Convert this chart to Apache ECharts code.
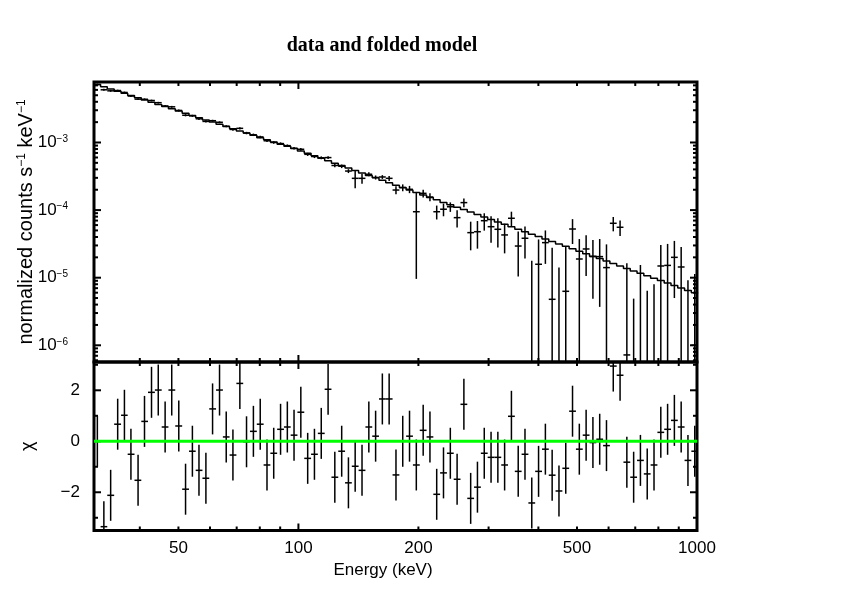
<!DOCTYPE html>
<html><head><meta charset="utf-8">
<script src="https://cdn.jsdelivr.net/npm/echarts@6/dist/echarts.min.js"></script>
<style>html,body{margin:0;padding:0;background:#fff}#c{width:842px;height:595px}</style>
</head><body><div id="c"></div><script>
// ---- data ----
const energy = [31.3, 32.5, 33.8, 35.2, 36.6, 38.0, 39.6, 41.1, 42.8, 44.5,
  46.3, 48.1, 50.1, 52.1, 54.2, 56.3, 58.6, 60.9, 63.4, 65.9,
  68.5, 71.3, 74.1, 77.1, 80.2, 83.4, 86.7, 90.2, 93.8, 97.5,
  101.4, 105.5, 109.7, 114.1, 118.7, 123.4, 128.4, 133.5, 138.8, 144.4,
  150.2, 156.2, 162.4, 168.9, 175.7, 182.7, 190.0, 197.6, 205.6, 213.8,
  222.3, 231.2, 240.5, 250.1, 260.1, 270.5, 281.3, 292.6, 304.3, 316.5,
  329.1, 342.3, 356.0, 370.2, 385.0, 400.4, 416.5, 433.1, 450.5, 468.5,
  487.2, 506.7, 527.0, 548.1, 570.0, 592.8, 616.5, 641.2, 666.8, 693.5,
  721.2, 750.1, 780.1, 811.3, 843.8, 877.5, 912.6, 949.1, 987.1];
const model = [7.21e-3, 6.69e-3, 6.21e-3, 5.75e-3, 5.34e-3, 4.95e-3, 4.59e-3, 4.26e-3, 3.95e-3, 3.66e-3,
  3.40e-3, 3.15e-3, 2.92e-3, 2.71e-3, 2.51e-3, 2.33e-3, 2.16e-3, 2.01e-3, 1.86e-3, 1.73e-3,
  1.60e-3, 1.48e-3, 1.38e-3, 1.28e-3, 1.18e-3, 1.10e-3, 1.02e-3, 9.45e-4, 8.77e-4, 8.13e-4,
  7.51e-4, 6.91e-4, 6.36e-4, 5.85e-4, 5.38e-4, 4.95e-4, 4.56e-4, 4.19e-4, 3.86e-4, 3.55e-4,
  3.26e-4, 3.00e-4, 2.76e-4, 2.54e-4, 2.34e-4, 2.15e-4, 1.98e-4, 1.82e-4, 1.67e-4, 1.54e-4,
  1.42e-4, 1.30e-4, 1.20e-4, 1.10e-4, 1.02e-4, 9.34e-5, 8.60e-5, 7.91e-5, 7.27e-5, 6.69e-5,
  6.16e-5, 5.67e-5, 5.21e-5, 4.80e-5, 4.41e-5, 4.06e-5, 3.73e-5, 3.44e-5, 3.16e-5, 2.91e-5,
  2.68e-5, 2.46e-5, 2.26e-5, 2.08e-5, 1.92e-5, 1.76e-5, 1.62e-5, 1.49e-5, 1.37e-5, 1.26e-5,
  1.16e-5, 1.07e-5, 9.84e-6, 9.05e-6, 8.33e-6, 7.66e-6, 7.05e-6, 6.48e-6, 5.97e-6];
const counts = [7.21e-3, 6.02e-3, 5.81e-3, 5.87e-3, 5.50e-3, 4.87e-3, 4.38e-3, 4.36e-3, 4.18e-3, 3.88e-3,
  3.47e-3, 3.37e-3, 2.98e-3, 2.53e-3, 2.48e-3, 2.24e-3, 2.05e-3, 2.10e-3, 1.99e-3, 1.74e-3,
  1.56e-3, 1.62e-3, 1.38e-3, 1.30e-3, 1.21e-3, 1.06e-3, 1.00e-3, 9.64e-4, 8.98e-4, 8.21e-4,
  7.94e-4, 6.68e-4, 6.20e-4, 5.94e-4, 5.98e-4, 4.57e-4, 4.45e-4, 3.78e-4, 2.95e-4, 2.95e-4,
  3.39e-4, 3.04e-4, 3.09e-4, 2.95e-4, 1.98e-4, 2.15e-4, 2.03e-4, 9.46e-5, 1.77e-4, 1.56e-4,
  9.46e-5, 1.03e-4, 1.12e-4, 7.73e-5, 1.29e-4, 4.64e-5, 4.79e-5, 6.97e-5, 5.68e-5, 5.20e-5,
  4.29e-5, 7.57e-5, 2.94e-5, 3.83e-5, -7e-7, 1.58e-5, 3.30e-5, 4.79e-6, -4.3e-6, 6.29e-6,
  5.25e-5, 1.89e-5, 2.66e-5, 2.05e-5, 2.05e-5, 1.41e-5, 6.38e-5, 5.57e-5, 7.2e-7, -1.4e-5,
  2e-7, -9.1e-6, -1.0e-5, 1.49e-5, 1.52e-5, 2.0e-5, 1.44e-5, -1.8e-6, 1.0e-6];
const countErr = [2.2e-4, 2.0e-4, 1.9e-4, 1.7e-4, 1.6e-4, 1.5e-4, 1.4e-4, 1.3e-4, 1.2e-4, 1.1e-4,
  1.19e-4, 1.10e-4, 1.02e-4, 9.5e-5, 8.8e-5, 8.2e-5, 7.6e-5, 7.0e-5, 6.5e-5, 6.1e-5,
  6.7e-5, 6.2e-5, 5.8e-5, 5.4e-5, 5.0e-5, 4.6e-5, 4.3e-5, 4.0e-5, 3.7e-5, 3.4e-5,
  3.8e-5, 3.5e-5, 3.2e-5, 2.9e-5, 3.0e-5, 2.7e-5, 2.7e-5, 2.5e-5, 8.5e-5, 5.0e-5,
  2.3e-5, 2.1e-5, 2.0e-5, 2.5e-5, 2.7e-5, 2.5e-5, 2.5e-5, 8.5e-5, 2.3e-5, 2.1e-5,
  2.2e-5, 2.2e-5, 1.8e-5, 2.2e-5, 1.9e-5, 2.1e-5, 2.1e-5, 2.0e-5, 2.4e-5, 2.4e-5,
  2.0e-5, 1.9e-5, 1.9e-5, 1.9e-5, 1.85e-5, 2.1e-5, 1.7e-5, 2.3e-5, 1.84e-5, 2.25e-5,
  2.1e-5, 1.84e-5, 1.6e-5, 1.56e-5, 1.68e-5, 1.7e-5, 1.53e-5, 1.45e-5, 1.56e-5, 1.89e-5,
  1.52e-5, 1.55e-5, 1.8e-5, 1.56e-5, 1.64e-5, 1.5e-5, 1.4e-5, 1.1e-5, 1.03e-5];
const chi = [0.0, -3.35, -2.12, 0.67, 1.02, -0.51, -1.53, 0.78, 1.92, 2.01,
  0.56, 2.01, 0.60, -1.88, -0.39, -1.14, -1.45, 1.27, 2.01, 0.17,
  -0.54, 2.27, -0.02, 0.39, 0.67, -0.93, -0.47, 0.47, 0.56, 0.24,
  1.14, -0.67, -0.51, 0.31, 2.04, -1.41, -0.39, -1.63, -0.98, -1.14,
  0.56, 0.20, 1.66, 1.66, -1.32, 0.0, 0.20, -0.93, 0.43, 0.17,
  -2.08, -1.24, -0.47, -1.49, 1.45, -2.24, -1.80, -0.47, -0.63, -0.63,
  -0.93, 0.98, -1.18, -0.51, -2.42, -1.18, -0.31, -1.33, -1.95, -1.06,
  1.18, -0.31, 0.24, -0.05, 0.08, -0.17, 2.95, 2.59, -0.82, -1.41,
  -0.75, -1.28, -0.93, 0.35, 0.47, 0.82, 0.56, -0.75, -0.39];
const CHI_ERR = 1;
const xLabelValues = [50, 100, 200, 500, 1000];
const xMajorTicks = [100, 1000];
const xMinorTicks = [40, 50, 60, 70, 80, 90, 200, 300, 400, 500, 600, 700, 800, 900];
const yTopLabelValues = [1e-6, 1e-5, 1e-4, 1e-3];
const yBotLabelValues = [-2, 0, 2];
const yBotMinorTicks = [-3, -1, 1, 3];

// ---- axis ranges ----
const X_MIN = 30.7, X_MAX = 1000;
const Y_MIN = 5.66e-7, Y_MAX = 7.85e-3;
const C_MIN = -3.5, C_MAX = 3.11;
const FONT = '"Liberation Sans", Arial, Helvetica, sans-serif';

const n = energy.length;
const lo = energy.map((e, k) => k > 0 ? Math.sqrt(energy[k - 1] * e) : e * Math.sqrt(e / energy[1]));
const hi = energy.map((e, k) => k < n - 1 ? Math.sqrt(e * energy[k + 1]) : e * Math.sqrt(e / energy[n - 2]));

const yTopMinor = [];
for (let d = -7; d <= -3; d++) for (let m = 2; m <= 9; m++) {
  const v = m * Math.pow(10, d);
  if (v > Y_MIN && v < Y_MAX) yTopMinor.push(v);
}
const topTicks = [].concat(
  xMinorTicks.map(v => [v, 1e-4, 0]), xMajorTicks.map(v => [v, 1e-4, 1]),
  yTopMinor.map(v => [100, v, 2]), yTopLabelValues.map(v => [100, v, 3]));
const botTicks = [].concat(
  xMinorTicks.map(v => [v, 0, 0]), xMajorTicks.map(v => [v, 0, 1]),
  yBotMinorTicks.map(v => [100, v, 2]), yBotLabelValues.map(v => [100, v, 3]));

const LINE = { stroke: '#000', lineWidth: 1.5, fill: null };
function renderTicks(params, api) {
  const cs = params.coordSys;
  const kind = api.value(2);
  const p = api.coord([api.value(0), api.value(1)]);
  const len = (kind === 1 || kind === 3) ? 7 : 4;
  const st = { stroke: '#000', lineWidth: 2 };
  if (kind < 2) {
    return { type: 'group', children: [
      { type: 'line', shape: { x1: p[0], y1: cs.y, x2: p[0], y2: cs.y + len }, style: st },
      { type: 'line', shape: { x1: p[0], y1: cs.y + cs.height, x2: p[0], y2: cs.y + cs.height - len }, style: st }
    ] };
  }
  return { type: 'group', children: [
    { type: 'line', shape: { x1: cs.x, y1: p[1], x2: cs.x + len, y2: p[1] }, style: st },
    { type: 'line', shape: { x1: cs.x + cs.width, y1: p[1], x2: cs.x + cs.width - len, y2: p[1] }, style: st }
  ] };
}
function makeCross(lowV, highV, yRef) {
  return function (params, api) {
    const cs = params.coordSys;
    const E = api.value(0), v = api.value(1), e = api.value(2), l = api.value(3), h = api.value(4);
    const top = cs.y, bot = cs.y + cs.height;
    const py = val => val <= lowV ? bot : (val >= highV ? top : api.coord([E, val])[1]);
    const xc = api.coord([E, yRef])[0];
    const xl = Math.max(cs.x, api.coord([l, yRef])[0]);
    const xr = Math.min(cs.x + cs.width, api.coord([h, yRef])[0]);
    const ch = [{ type: 'line', shape: { x1: xc, y1: py(v + e), x2: xc, y2: py(v - e) }, style: LINE }];
    if (v > lowV && v < highV) ch.push({ type: 'line', shape: { x1: xl, y1: py(v), x2: xr, y2: py(v) }, style: LINE });
    return { type: 'group', children: ch };
  };
}

const chart = echarts.init(document.getElementById('c'), null, { renderer: 'canvas' });
const supRich = {
  b: { fontSize: 17, fontFamily: FONT, color: '#000' },
  e: { fontSize: 10, fontFamily: FONT, color: '#000', verticalAlign: 'top' }
};
chart.setOption({
  animation: false,
  backgroundColor: '#fff',
  title: {
    text: 'data and folded model', left: 377, top: 31, textAlign: 'center',
    textStyle: { fontFamily: '"Liberation Serif", "Times New Roman", serif', fontWeight: 'bold', fontSize: 20, color: '#000' }
  },
  grid: [
    { left: 94, top: 82, width: 603, height: 280, show: true, borderColor: '#000', borderWidth: 3, backgroundColor: 'transparent' },
    { left: 94, top: 362, width: 603, height: 168.5, show: true, borderColor: '#000', borderWidth: 3, backgroundColor: 'transparent' }
  ],
  xAxis: [
    { gridIndex: 0, type: 'log', logBase: 10, min: X_MIN, max: X_MAX,
      axisLine: { show: false }, axisTick: { show: false }, axisLabel: { show: false }, splitLine: { show: false } },
    { gridIndex: 1, type: 'log', logBase: 10, min: X_MIN, max: X_MAX,
      axisLine: { show: false }, axisTick: { show: false }, splitLine: { show: false },
      axisLabel: { customValues: xLabelValues, formatter: v => String(Math.round(v)), fontSize: 17, fontFamily: FONT, color: '#000', margin: 9 },
      name: 'Energy (keV)', nameLocation: 'middle', nameGap: 31, nameMoveOverlap: false,
      nameTextStyle: { fontSize: 17, fontFamily: FONT, color: '#000', padding: [0, 25, 0, 0] } }
  ],
  yAxis: [
    { gridIndex: 0, type: 'log', logBase: 10, min: Y_MIN, max: Y_MAX,
      axisLine: { show: false }, axisTick: { show: false }, splitLine: { show: false },
      axisLabel: { customValues: yTopLabelValues, margin: 26,
        formatter: v => '{b|10}{e|\u2212' + Math.round(-Math.log10(v)) + '}', rich: supRich },
      name: '{a|normalized counts s}{e|\u22121}{a| keV}{e|\u22121}', nameLocation: 'middle', nameGap: 58,
      nameMoveOverlap: false,
      nameTextStyle: { rich: { a: { fontSize: 20, fontFamily: FONT, color: '#000' },
        e: { fontSize: 12, fontFamily: FONT, color: '#000', verticalAlign: 'top' } } } },
    { gridIndex: 1, type: 'value', min: C_MIN, max: C_MAX,
      axisLine: { show: false }, axisTick: { show: false }, splitLine: { show: false },
      axisLabel: { customValues: yBotLabelValues, margin: 14, fontSize: 17, fontFamily: FONT, color: '#000',
        formatter: v => (v < 0 ? '\u2212' + Math.abs(v) : String(v)) },
      name: '\u03c7', nameLocation: 'middle', nameGap: 57, nameMoveOverlap: false,
      nameTextStyle: { fontSize: 18, fontFamily: FONT, color: '#000' } }
  ],
  series: [
    { type: 'custom', xAxisIndex: 0, yAxisIndex: 0, silent: true, z: 4, renderItem: renderTicks,
      encode: { x: 0, y: 1 }, data: topTicks },
    { type: 'custom', xAxisIndex: 1, yAxisIndex: 1, silent: true, z: 4, renderItem: renderTicks,
      encode: { x: 0, y: 1 }, data: botTicks },
    { type: 'line', xAxisIndex: 0, yAxisIndex: 0, step: 'end', showSymbol: false, silent: true, clip: true,
      lineStyle: { color: '#000', width: 1.5 },
      data: energy.map((e, k) => [lo[k], model[k]]).concat([[hi[n - 1], model[n - 1]]]) },
    { type: 'custom', xAxisIndex: 0, yAxisIndex: 0, silent: true, z: 3, renderItem: makeCross(Y_MIN, Y_MAX, 1e-4),
      encode: { x: 0, y: 1 }, data: energy.map((e, k) => [e, counts[k], countErr[k], lo[k], hi[k]]) },
    { type: 'custom', xAxisIndex: 1, yAxisIndex: 1, silent: true, z: 3, renderItem: makeCross(C_MIN, C_MAX, 0),
      encode: { x: 0, y: 1 }, data: energy.map((e, k) => [e, chi[k], CHI_ERR, lo[k], hi[k]]) },
    { type: 'line', xAxisIndex: 1, yAxisIndex: 1, showSymbol: false, silent: true, z: 6,
      lineStyle: { color: '#00ff00', width: 3 }, data: [[X_MIN, 0], [X_MAX, 0]] }
  ]
});
</script></body></html>
